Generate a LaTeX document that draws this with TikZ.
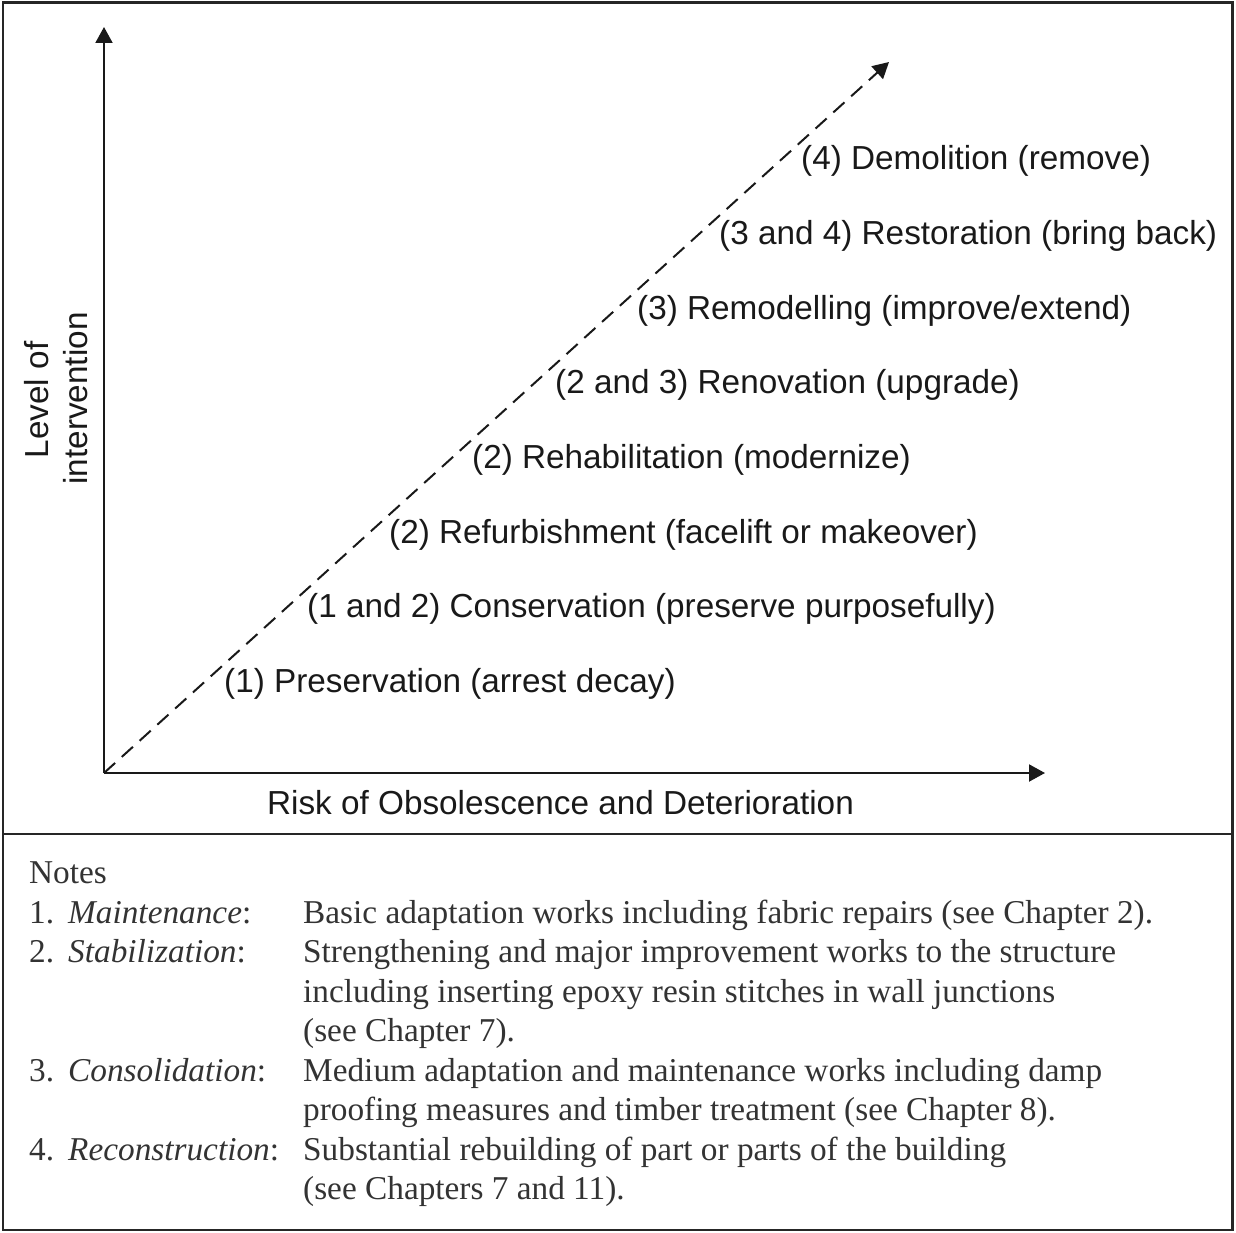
\documentclass[tikz,border=0pt]{standalone}
\usepackage{fontspec}
\setmainfont{Liberation Serif}
\setsansfont{Liberation Sans}
\usetikzlibrary{arrows.meta}
\begin{document}
\begin{tikzpicture}[x=1pt,y=-1pt,
  lbl/.style={font=\sffamily\fontsize{33.3}{39}\selectfont, inner sep=0pt, anchor=base west, text=black!90},
  note/.style={font=\rmfamily\fontsize{33.3}{39.5}\selectfont, inner sep=0pt, anchor=base west, text=black!80},
  axis/.style={line width=2pt, draw=black!90, -{Triangle[length=16pt,width=17pt]}}]
\useasboundingbox (0,0) rectangle (1236,1233);
\draw[line width=2.5pt, draw=black!85] (3,2.5) rectangle (1232.5,1230);
\draw[line width=2pt, draw=black!85] (3,834) -- (1232.5,834);
% axes
\coordinate (O) at (104,773);
\coordinate (Ytip) at (104,27);
\coordinate (Xtip) at (1045,773);
\coordinate (Dtip) at (889,62);
\draw[axis] (O) -- (Ytip);
\draw[axis] (O) -- (Xtip);
\draw[axis, dash pattern=on 15pt off 9pt] (O) -- (Dtip);
% labels along the diagonal
\node[lbl] (l1) at (224,692.2) {(1) Preservation (arrest decay)};
\node[lbl] (l2) at (307,617.6) {(1 and 2) Conservation (preserve purposefully)};
\node[lbl] (l3) at (389,543) {(2) Refurbishment (facelift or makeover)};
\node[lbl] (l4) at (472,468.4) {(2) Rehabilitation (modernize)};
\node[lbl] (l5) at (555,393.8) {(2 and 3) Renovation (upgrade)};
\node[lbl] (l6) at (637,319.2) {(3) Remodelling (improve/extend)};
\node[lbl] (l7) at (719,244.6) {(3 and 4) Restoration (bring back)};
\node[lbl] (l8) at (801,170) {(4) Demolition (remove)};
% axis titles
\node[lbl, anchor=base] (xlab) at (560.5,814) {Risk of Obsolescence and Deterioration};
\node[lbl, anchor=base, rotate=90] (ylab1) at (48,400) {Level of};
\node[lbl, anchor=base, rotate=90] (ylab2) at (87,398.5) {intervention};
% notes
\node[note] (n0) at (29,883) {Notes};
\node[note] (n1a) at (29,923) {1.};
\node[note] (n1b) at (68,923) {\textit{Maintenance}:};
\node[note] (n1c) at (303,923) {Basic adaptation works including fabric repairs (see Chapter 2).};
\node[note] (n2a) at (29,962.5) {2.};
\node[note] (n2b) at (68,962.5) {\textit{Stabilization}:};
\node[note] (n2c) at (303,962.5) {Strengthening and major improvement works to the structure};
\node[note] (n2d) at (303,1002) {including inserting epoxy resin stitches in wall junctions};
\node[note] (n2e) at (303,1041.5) {(see Chapter 7).};
\node[note] (n3a) at (29,1081) {3.};
\node[note] (n3b) at (68,1081) {\textit{Consolidation}:};
\node[note] (n3c) at (303,1081) {Medium adaptation and maintenance works including damp};
\node[note] (n3d) at (303,1120.5) {proofing measures and timber treatment (see Chapter 8).};
\node[note] (n4a) at (29,1160) {4.};
\node[note] (n4b) at (68,1160) {\textit{Reconstruction}:};
\node[note] (n4c) at (303,1160) {Substantial rebuilding of part or parts of the building};
\node[note] (n4d) at (303,1199.5) {(see Chapters 7 and 11).};
\end{tikzpicture}
\end{document}
